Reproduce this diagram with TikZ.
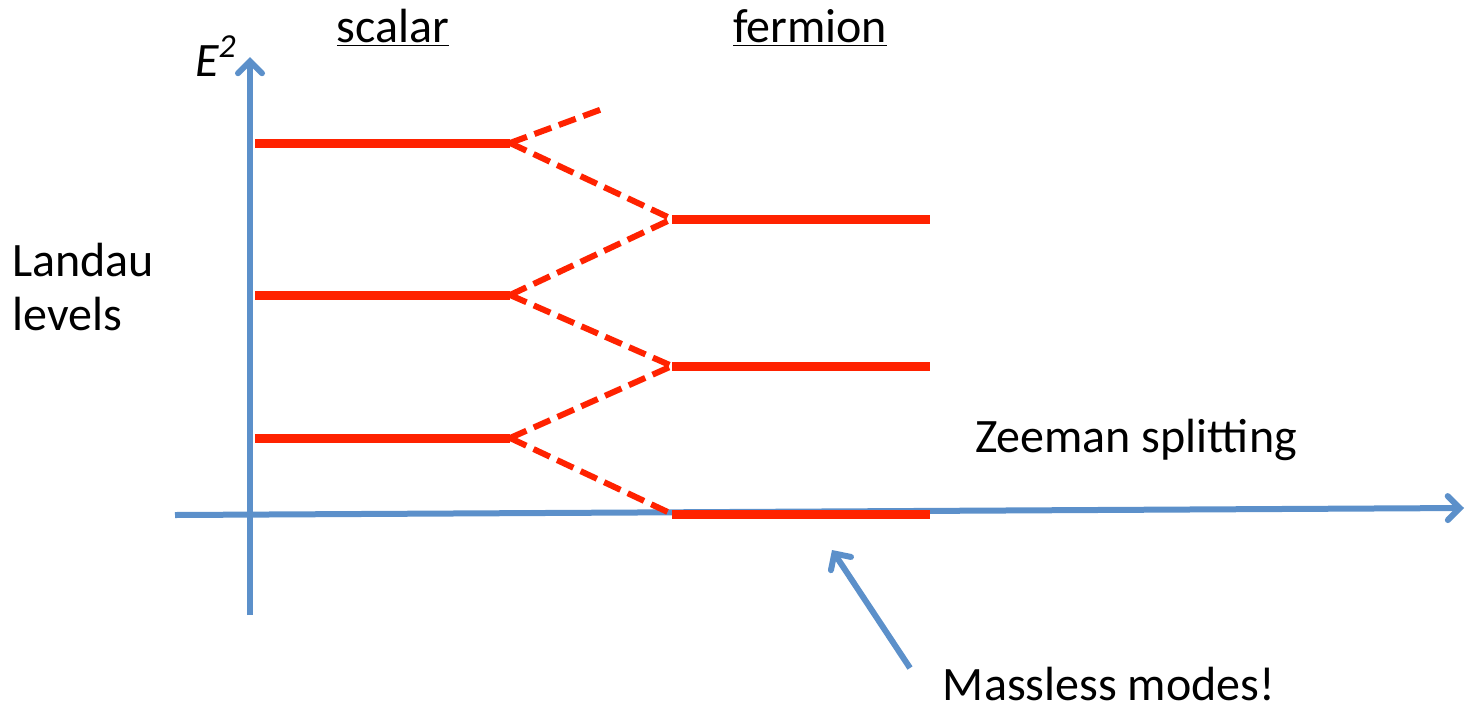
\documentclass[tikz,border=0pt]{standalone}
\usepackage{fontspec}
\setmainfont{Carlito}
\usetikzlibrary{arrows.meta}
\definecolor{lvlred}{RGB}{255,34,0}
\definecolor{axblue}{RGB}{92,144,202}
\begin{document}
\begin{tikzpicture}[x=0.5pt,y=-0.5pt,
  axis/.style={draw=axblue,line width=3pt,-{Straight Barb[length=6pt,width=12pt,line cap=round,line width=3pt]}},
  level/.style={draw=lvlred,line width=4.5pt},
  split/.style={draw=lvlred,line width=3pt,dash pattern=on 9pt off 4pt},
  lbl/.style={inner sep=0pt,anchor=base,font=\fontsize{24}{27}\selectfont}]
\useasboundingbox (0,0) rectangle (1466,713);
% axes
\coordinate (yb) at (250,615);
\coordinate (yt) at (250,57);
\coordinate (xl) at (175,515);
\coordinate (xr) at (1464,508);
\draw[axis] (yb) -- (yt);
\draw[axis] (xl) -- (xr);
% scalar levels
\coordinate (s1l) at (255,143); \coordinate (s1r) at (510,143);
\coordinate (s2l) at (255,295); \coordinate (s2r) at (510,295);
\coordinate (s3l) at (255,438); \coordinate (s3r) at (510,438);
% fermion levels
\coordinate (f1l) at (672,219); \coordinate (f1r) at (930,219);
\coordinate (f2l) at (672,366); \coordinate (f2r) at (930,366);
\coordinate (f3l) at (672,514); \coordinate (f3r) at (930,514);
\coordinate (up) at (605,108);
\draw[split] (s1r) -- (up);
\draw[split] (s1r) -- (f1l);
\draw[split] (s2r) -- (f1l);
\draw[split] (s2r) -- (f2l);
\draw[split] (s3r) -- (f2l);
\draw[split] (s3r) -- (f3l);
\foreach \a/\b in {s1l/s1r,s2l/s2r,s3l/s3r,f1l/f1r,f2l/f2r,f3l/f3r}
  \draw[level] (\a) -- (\b);
% labels
\node[lbl] (e2) at (216,76) {\itshape E\textsuperscript{2}};
\node[lbl] (scalar) at (393,42) {\underline{scalar}};
\node[lbl] (fermion) at (810,42) {\underline{fermion}};
\node[lbl,anchor=base west] (landau) at (12,276) {Landau};
\node[lbl,anchor=base west] (levels) at (12,330) {levels};
\node[lbl] (zeeman) at (1136,452) {Zeeman splitting};
\node[lbl] (massless) at (1109,700) {Massless modes!};
\coordinate (mtail) at (910,668);
\coordinate (mtip) at (832,550);
\draw[axis] (mtail) -- (mtip);
\end{tikzpicture}
\end{document}
